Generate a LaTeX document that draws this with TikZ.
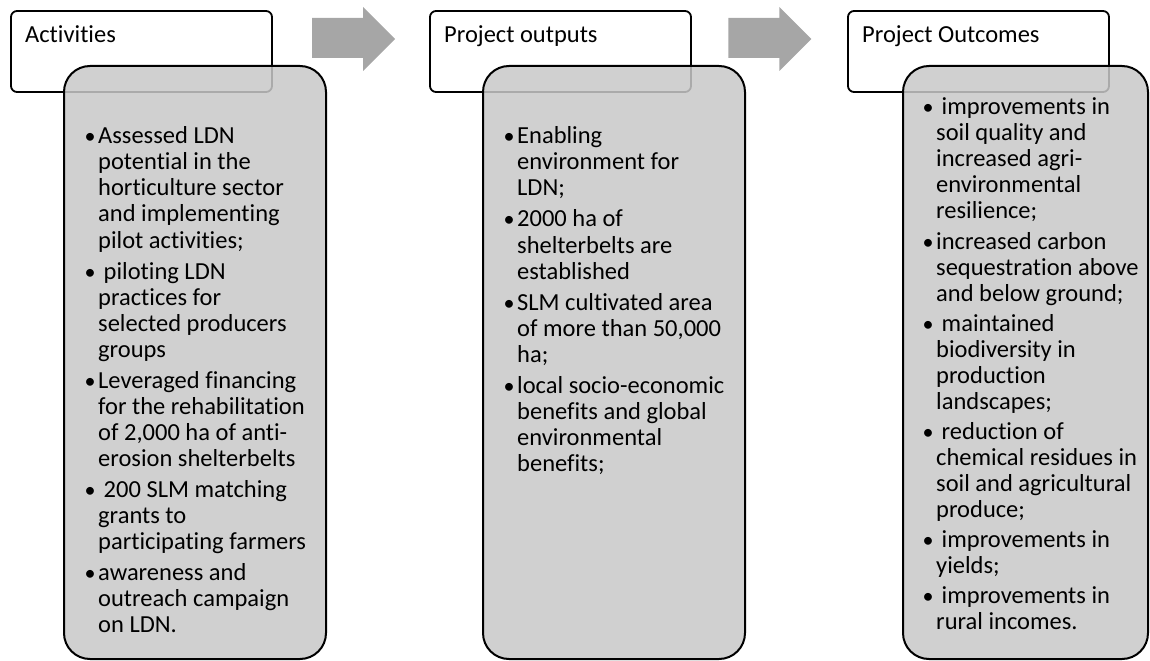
\documentclass[tikz,border=0pt]{standalone}
\usepackage{fontspec}
\setmainfont{Carlito}[Ligatures=NoCommon]
\definecolor{bodygray}{RGB}{200,200,200}
\definecolor{flowgray}{RGB}{166,166,166}
% hanging bullet placed left of the text margin
\newcommand\itemdot{\leavevmode\llap{\scalebox{0.9}{\textbullet}\hspace{2.5bp}}}
% a column of bullet items with hand-set line breaks
\newcommand\itemcolumn[2]{%
  \begin{minipage}[t]{240bp}\fontsize{24.5bp}{26bp}\selectfont
  \setlength\parskip{#1}\raggedright #2\end{minipage}}
\begin{document}
\begin{tikzpicture}[x=1bp,y=-1bp,
  headbox/.style={draw=black, line width=1.8bp, fill=white, rounded corners=6bp},
  bodybox/.style={draw=black, line width=2bp, fill=bodygray, fill opacity=0.85, rounded corners=26bp},
  flowarrow/.style={fill=flowgray},
  title/.style={anchor=base west, inner sep=0pt, font=\fontsize{24.5bp}{26bp}\selectfont},
  itemtext/.style={anchor=base west, inner sep=0pt}]
\useasboundingbox (0,0) rectangle (1150,661);

% header boxes
\draw[headbox] (11,11) rectangle (272,92);
\draw[headbox] (430,11) rectangle (691,92);
\draw[headbox] (848,11) rectangle (1109,92);

% flow arrows between the columns
\foreach \dx in {0,418}{
  \fill[flowarrow, xshift=\dx] (312,18) -- (363,18) -- (363,7) -- (395,39)
    -- (363,71) -- (363,58) -- (312,58) -- cycle;
}

% body boxes, laid over the headers
\draw[bodybox] (64,66) rectangle (326,659);
\draw[bodybox] (483,66) rectangle (745,659);
\draw[bodybox] (903,66) rectangle (1148,659);

% titles
\node[title] (t1) at (25,43) {Activities};
\node[title] (t2) at (444,43) {Project outputs};
\node[title] (t3) at (862,43) {Project Outcomes};

% bullet lists
\node[itemtext] (l1) at (98,144) {\itemcolumn{5bp}{%
\itemdot Assessed LDN\\ potential in the\\ horticulture sector\\ and implementing\\ pilot activities;\par
\itemdot\ piloting LDN\\ practices for\\ selected producers\\ groups\par
\itemdot Leveraged financing\\ for the rehabilitation\\ of 2,000 ha of anti-\\ erosion shelterbelts\par
\itemdot\ 200 SLM matching\\ grants to\\ participating farmers\par
\itemdot awareness and\\ outreach campaign\\ on LDN.}};

\node[itemtext] (l2) at (517,144) {\itemcolumn{5bp}{%
\itemdot Enabling\\ environment for\\ LDN;\par
\itemdot 2000 ha of\\ shelterbelts are\\ established\par
\itemdot SLM cultivated area\\ of more than 50,000\\ ha;\par
\itemdot local socio-economic\\ benefits and global\\ environmental\\ benefits;}};

\node[itemtext] (l3) at (936,115) {\itemcolumn{4bp}{%
\itemdot\ improvements in\\ soil quality and\\ increased agri-\\ environmental\\ resilience;\par
\itemdot increased carbon\\ sequestration above\\ and below ground;\par
\itemdot\ maintained\\ biodiversity in\\ production\\ landscapes;\par
\itemdot\ reduction of\\ chemical residues in\\ soil and agricultural\\ produce;\par
\itemdot\ improvements in\\ yields;\par
\itemdot\ improvements in\\ rural incomes.}};
\end{tikzpicture}
\end{document}
